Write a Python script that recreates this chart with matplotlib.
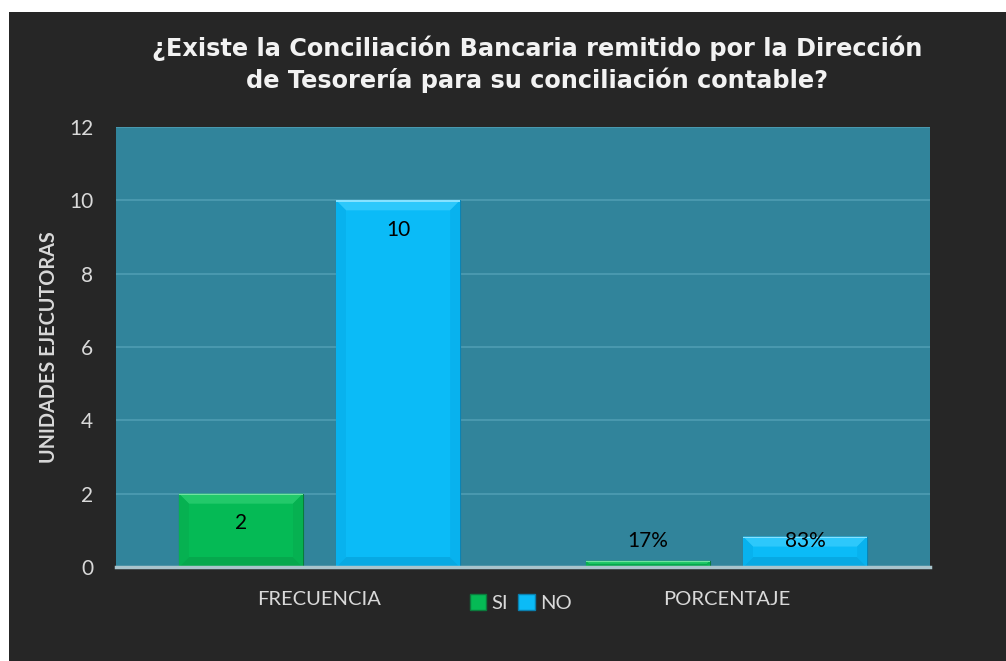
import matplotlib
matplotlib.use("Agg")
import matplotlib.pyplot as plt
import matplotlib.patches as mpatches
import numpy as np

categories = ["FRECUENCIA", "PORCENTAJE"]
series_names = ["SI", "NO"]
si_values = [2, 0.17]
no_values = [10, 0.83]
si_labels = ["2", "17%"]
no_labels = ["10", "83%"]
yticks = [0, 2, 4, 6, 8, 10, 12]
title = "¿Existe la Conciliación Bancaria remitido por la Dirección\nde Tesorería para su conciliación contable?"
ylabel = "UNIDADES EJECUTORAS"

W, H = 1006, 661
fig = plt.figure(figsize=(W / 100, H / 100), dpi=100)
fig.patch.set_facecolor("white")
bg = mpatches.Rectangle((9 / W, 0), 1 - 9 / W, (H - 12) / H,
                        transform=fig.transFigure, facecolor="#262626",
                        edgecolor="none", zorder=-10)
fig.patches.append(bg)

ax = fig.add_axes([116 / W, (H - 567) / H, 814 / W, 440 / H])
ax.set_zorder(1)
ax.set_facecolor("#31849B")
for s in ["top", "right", "left"]:
    ax.spines[s].set_visible(False)
ax.spines["bottom"].set_color("#A9C4CC")
ax.spines["bottom"].set_linewidth(2.5)
ax.spines["bottom"].set_zorder(5)

x = np.arange(len(categories))
bw = 0.305
off = 0.193
green = "#05BA55"
blue = "#0BBBF7"
bars_si = ax.bar(x - off, si_values, bw, color=green, edgecolor="#0B7A3C", linewidth=0.8, zorder=3)
bars_no = ax.bar(x + off, no_values, bw, color=blue, edgecolor="#0A7FAE", linewidth=0.8, zorder=3)

ax.set_xlim(-0.5, 1.5)
ax.set_ylim(0, 12)

# subtle bevel effect built from each bar's geometry
bev_x = 10 / 407.0
bev_y = 10 / (440 / 12.0)
hl_y = 1.5 / (440 / 12.0)
bevel_cols = {"si": ("#22C96A", "#06A84D", "#06B151", "#6FE39F"),
              "no": ("#2DC8FB", "#07A9E3", "#08B2EE", "#86E2FF")}
for bars, key in ((bars_si, "si"), (bars_no, "no")):
    top_c, bot_c, side_c, hl_c = bevel_cols[key]
    for r in bars:
        x0, y0 = r.get_x(), r.get_y()
        x1, y1 = x0 + r.get_width(), y0 + r.get_height()
        by = min(bev_y, (y1 - y0) / 2)
        bx = bev_x * by / bev_y
        polys = [
            ([(x0, y1), (x1, y1), (x1 - bx, y1 - by), (x0 + bx, y1 - by)], top_c),
            ([(x0, y0), (x1, y0), (x1 - bx, y0 + by), (x0 + bx, y0 + by)], bot_c),
            ([(x0, y0), (x0, y1), (x0 + bx, y1 - by), (x0 + bx, y0 + by)], side_c),
            ([(x1, y0), (x1, y1), (x1 - bx, y1 - by), (x1 - bx, y0 + by)], side_c),
        ]
        for pts, c in polys:
            ax.add_patch(mpatches.Polygon(pts, closed=True, facecolor=c, edgecolor="none", zorder=3.5))
        h = min(hl_y, (y1 - y0) / 3)
        ax.add_patch(mpatches.Rectangle((x0, y1 - h), x1 - x0, h, facecolor=hl_c,
                                        edgecolor="none", zorder=3.6))

ax.set_yticks(yticks)
ax.set_yticklabels([str(t) for t in yticks])
ax.yaxis.grid(True, color="#4E9DB2", linewidth=1.2, zorder=1)
ax.set_axisbelow(True)
ax.tick_params(axis="both", length=0, colors="#D9D9D9", labelsize=15)
ax.tick_params(axis="y", pad=16.5)
ax.tick_params(axis="x", pad=17, labelsize=14.5)
ax.set_xticks(x)
ax.set_xticklabels(categories, fontfamily="Lato")
for lab in ax.get_yticklabels():
    lab.set_fontfamily("Lato")

# data labels
for i in range(len(categories)):
    for bars, labels in ((bars_si, si_labels), (bars_no, no_labels)):
        r = bars[i]
        cx = r.get_x() + r.get_width() / 2
        if i == 0:
            ax.annotate(labels[i], (cx, r.get_height()), xytext=(0, -21), textcoords="offset points",
                        ha="center", va="center", fontsize=15, color="black", fontfamily="Lato", zorder=6)
        else:
            ax.annotate(labels[i], (cx, 0), xytext=(0, 18.5), textcoords="offset points",
                        ha="center", va="center", fontsize=15, color="black", fontfamily="Lato", zorder=6)

ax.set_ylabel(ylabel, fontsize=14.3, fontweight="bold", color="#D9D9D9", fontfamily="Lato")
ax.yaxis.set_label_coords(-57 / 814, 0.5)

fig.text(537 / W, (H - 64) / H, title, ha="center", va="center", fontsize=17.3, fontweight="bold",
         color="#F2F2F2", fontfamily="DejaVu Sans", linespacing=1.3)

handles = [mpatches.Patch(facecolor=green, edgecolor="#0B7A3C", label=series_names[0]),
           mpatches.Patch(facecolor=blue, edgecolor="#0A7FAE", label=series_names[1])]
leg = fig.legend(handles=handles, loc="center", bbox_to_anchor=(521 / W, (H - 603) / H), ncol=2,
                 frameon=False, handlelength=0.8, handleheight=0.8, handletextpad=0.3, columnspacing=0.5,
                 prop={"family": "Lato", "size": 14.5})
for t in leg.get_texts():
    t.set_color("#D9D9D9")

fig.savefig("out.png", dpi=100, facecolor=fig.get_facecolor())
